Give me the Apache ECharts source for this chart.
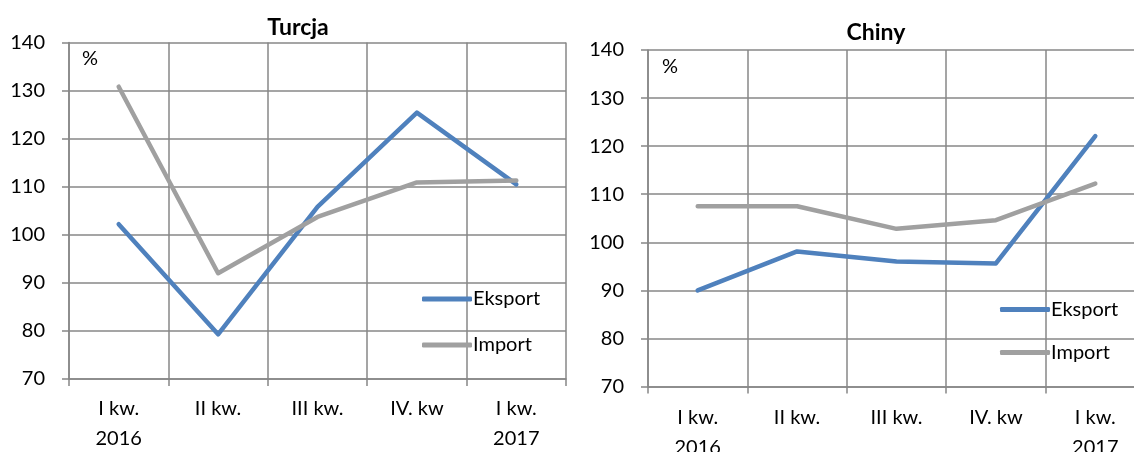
<!DOCTYPE html>
<html>
<head>
<meta charset="utf-8">
<script src="https://cdn.jsdelivr.net/npm/echarts@6/dist/echarts.min.js"></script>
<style>
  html, body { margin: 0; padding: 0; background: #fff; overflow: hidden; }
  #wrap { position: relative; width: 1134px; height: 452px; overflow: hidden; }
  #turcja { position: absolute; left: 0; top: 0; width: 567px; height: 452px; }
  #chiny { position: absolute; left: 567px; top: 0; width: 600px; height: 452px; }
</style>
</head>
<body>
<div id="wrap">
  <div id="turcja"></div>
  <div id="chiny"></div>
</div>
<script>
// Quarterly dynamics (%) of trade with Turkey and China
const quarters = ['I kw.\n2016', 'II kw.', 'III kw.', 'IV. kw', 'I kw.\n2017'];
const yTicks = [70, 80, 90, 100, 110, 120, 130, 140];

const turcjaEksport = [102.2, 79.3, 105.8, 125.4, 110.5];
const turcjaImport  = [130.8, 92.0, 103.7, 110.9, 111.3];

const chinyEksport = [90.0, 98.1, 96.0, 95.6, 122.1];
const chinyImport  = [107.5, 107.5, 102.8, 104.6, 112.2];

const FONT = 'Lato';
const BLUE = '#4F81BD';
const GREY = '#A0A0A0';
const GRID = '#878787';

function build(cfg) {
  const axisLineStyle = { color: GRID, width: 1.5 };
  return {
    animation: false,
    backgroundColor: '#fff',
    title: {
      text: cfg.title, left: cfg.titleX, top: cfg.titleY, textAlign: 'center',
      textStyle: { fontFamily: FONT, fontSize: 23, fontWeight: 'bold', color: '#000' }
    },
    grid: {
      left: cfg.gridLeft, top: cfg.gridTop, width: 497, height: 336.5,
      outerBoundsMode: 'none', containLabel: false
    },
    xAxis: {
      type: 'category', data: quarters, boundaryGap: true,
      axisLine: { lineStyle: axisLineStyle },
      axisTick: { show: true, length: 7, lineStyle: axisLineStyle },
      axisLabel: { color: '#000', fontFamily: FONT, fontSize: 20, lineHeight: 30,
                   margin: cfg.xMargin, interval: 0 },
      splitLine: { show: true, lineStyle: axisLineStyle }
    },
    yAxis: {
      type: 'value',
      min: yTicks[0], max: yTicks[yTicks.length - 1], interval: 10,
      axisLine: { show: true, lineStyle: axisLineStyle },
      axisTick: { show: true, length: 7, lineStyle: axisLineStyle },
      axisLabel: { color: '#000', fontFamily: FONT, fontSize: 20, margin: 24 },
      splitLine: { show: true, lineStyle: axisLineStyle }
    },
    legend: {
      orient: 'vertical', left: cfg.legendLeft, top: cfg.legendTop,
      itemWidth: 50, itemHeight: 5, itemGap: cfg.legendGap,
      icon: 'roundRect', selectedMode: false,
      textStyle: { fontFamily: FONT, fontSize: 20, color: '#000', padding: [0, 0, 0, -4] },
      data: ['Eksport', 'Import']
    },
    graphic: [{
      type: 'text', left: cfg.pctX, top: cfg.pctY,
      style: { text: '%', fontFamily: FONT, fontSize: 20, fill: '#000' }
    }],
    series: [
      { name: 'Eksport', type: 'line', data: cfg.eksport, symbol: 'none', color: BLUE,
        lineStyle: { color: BLUE, width: 4.5, cap: 'round', join: 'round' } },
      { name: 'Import', type: 'line', data: cfg.import, symbol: 'none', color: GREY,
        lineStyle: { color: GREY, width: 4.5, cap: 'round', join: 'round' } }
    ]
  };
}

echarts.init(document.getElementById('turcja')).setOption(build({
  title: 'Turcja', titleX: 293, titleY: 11,
  gridLeft: 69, gridTop: 42.5, xMargin: 15,
  legendLeft: 417, legendTop: 284, legendGap: 26,
  pctX: 82, pctY: 49,
  eksport: turcjaEksport, import: turcjaImport
}));

echarts.init(document.getElementById('chiny')).setOption(build({
  title: 'Chiny', titleX: 304, titleY: 16,
  gridLeft: 81, gridTop: 50, xMargin: 16,
  legendLeft: 428, legendTop: 294.5, legendGap: 23,
  pctX: 95, pctY: 57,
  eksport: chinyEksport, import: chinyImport
}));
</script>
</body>
</html>
